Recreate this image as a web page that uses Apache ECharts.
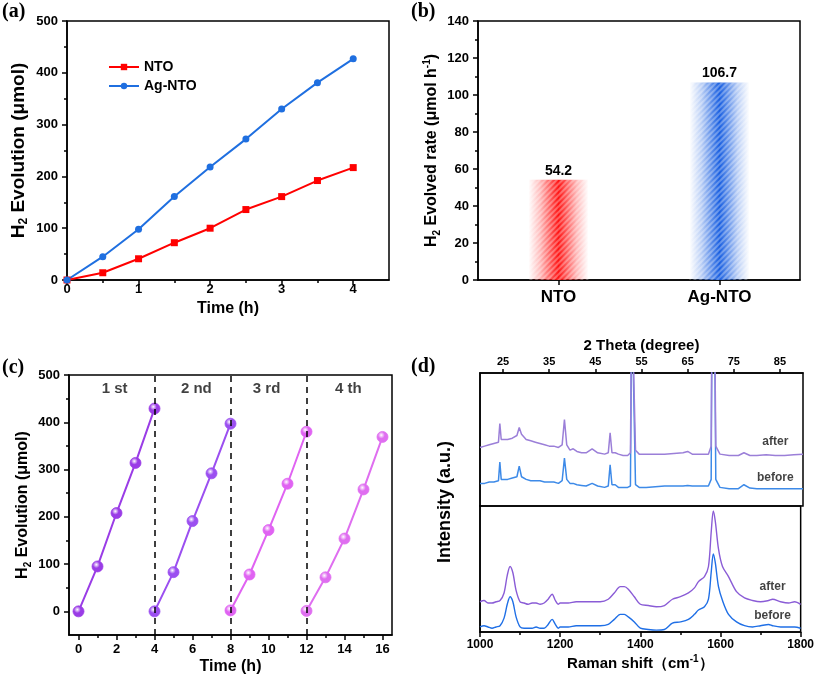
<!DOCTYPE html>
<html><head><meta charset="utf-8">
<script src="https://cdn.jsdelivr.net/npm/echarts@6/dist/echarts.min.js"></script>
<style>html,body{margin:0;padding:0;background:#fff}#c{width:817px;height:678px}</style>
</head><body><div id="c"></div>
<script>
// ---------- (a) ----------
const timeA = [0, 0.5, 1, 1.5, 2, 2.5, 3, 3.5, 4];
const ntoH2 = [0, 14, 41, 72, 100, 136, 161, 192, 217];
const agNtoH2 = [0, 45, 98, 161, 218, 272, 330, 381, 427];
const timeTicksA = [0, 1, 2, 3, 4];
const timeMinorA = [0.5, 1.5, 2.5, 3.5];
// ---------- (b) ----------
const rateCats = ['NTO', 'Ag-NTO'];
const rateVals = [54.2, 106.7];
// ---------- (c) ----------
const cycleTimes = [[0,1,2,3,4],[4,5,6,7,8],[8,9,10,11,12],[12,13,14,15,16]];
const cycleH2 = [[0,95,208,314,429],[0,83,191,292,397],[2,78,172,270,380],[1,72,154,258,369]];
const cycleNames = ['1 st', '2 nd', '3 rd', '4 th'];
const cycleLabelX = [1.9, 6.2, 9.9, 14.2];
const cycleLabelY = 470;
const cycleBreaks = [4, 8, 12];
const timeTicksC = [0, 2, 4, 6, 8, 10, 12, 14, 16];
const timeMinorC = [1, 3, 5, 7, 9, 11, 13, 15];
const h2TicksC = [0, 100, 200, 300, 400, 500];
const h2MinorC = [50, 150, 250, 350, 450];
// ---------- (d) XRD ----------
const thetaTicks = [25, 35, 45, 55, 65, 75, 85];
const xrdTheta = [20,21,22,23,24,24.3,24.6,25,26,27,28,28.5,29,30,31,32,33,34,35,36,37,37.8,38.3,38.8,39.5,40.2,41,42,43,44.3,45.5,47,47.8,48.2,48.6,49.3,50,51,52,52.6,52.9,53.3,53.7,54.5,56,58,60,62,64,65,66,68,69.5,70.1,70.3,70.8,71.1,72,74,76,77.2,78.5,80,82,84,86,88,90];
const xrdAfter = [44,45,46,47,48,62,50,50,50,51,53,59,54,50,49,48,47,46,45,45,44,46,65,46,42,43,41,40,40,43,40,39,40,55,40,40,39,38,38,40,160,160,42,39,39,39,39,39.5,40,41,39,39,39,45,160,160,45,39,38,38,40,38,38,38.5,38,38,38.5,39];
const xrdBefore = [17,17,18,18,19,33,20,20,20,21,22,30,22,20,19,19,19,18,18,18,17,19,36,20,17,17,16,15.5,15,17,15,14,15,31,16,16,14,14,14,15,160,160,16,14,14,14.5,15,15,15,15.5,15,15,15,20,160,160,20,14,13,13,16,13.5,13,13,13,13,13,13];
// ---------- (d) Raman ----------
const ramanShift = [1000,1010,1020,1030,1040,1050,1060,1068,1075,1082,1090,1100,1110,1120,1130,1140,1150,1160,1170,1180,1188,1195,1200,1220,1240,1260,1280,1300,1320,1335,1350,1360,1370,1385,1400,1420,1440,1460,1480,1500,1520,1535,1545,1560,1570,1577,1582,1587,1595,1605,1620,1640,1660,1680,1700,1720,1730,1750,1770,1785,1800];
const ramanAfter = [24,25,23,23,24,25,31,45,52,47,33,24,23,22,23,23,22,23,26,30,25,22,23,23,24,24,24,24,26,31,36,36,34,28,22,21,20,21,26,28,31,35,40,44,52,80,96,88,66,52,44,32,27,25,24,25,26,24,23,24,22];
const ramanBefore = [4,5,4,3,4,5,11,22,28,24,12,4,3,3,3,4,3,3,6,10,6,3,4,4,5,5,5,5,6,10,14,14,12,8,3,2,1.5,2,7,8,10,14,17.5,20,26,48,62,55,36,25,14,8,5,4,5,6,5,4,4,4,3];
const xrdLabels = [[84, 48, 'after'], [84, 21, 'before']];
const ramanLabels = [[1730, 36, 'after'], [1730, 13, 'before']];

const FF = '"Liberation Sans", Arial, sans-serif';
const colA = ['#ff0000', '#1f6fe0'];
const colB = ['255,20,20', '25,95,225'];
const colC = ['#9a3ce6', '#9b4ff0', '#e063f2', '#df6ef0'];
const zip = (xs, ys) => xs.map((x, i) => [x, ys[i]]);

const lineSt = { color: '#000', width: 1.5 };
function mainAxis(o) {
  const a = {
    type: 'value', splitLine: { show: false },
    axisLine: { show: true, onZero: false, lineStyle: lineSt },
    axisTick: { show: true, inside: false, length: 5, lineStyle: lineSt },
    axisLabel: { color: '#000', fontWeight: 'bold', fontFamily: FF, fontSize: 13 },
    nameLocation: 'middle',
    nameTextStyle: { color: '#000', fontWeight: 'bold', fontFamily: FF, fontSize: 16 }
  };
  for (const k in o) {
    if (typeof o[k] === 'object' && !Array.isArray(o[k]) && a[k]) a[k] = Object.assign({}, a[k], o[k]);
    else a[k] = o[k];
  }
  return a;
}
function minorAxis(o, vals) {
  return Object.assign({
    type: 'value', splitLine: { show: false },
    axisLine: { show: false, onZero: false },
    axisTick: { show: true, inside: false, length: 3, lineStyle: lineSt, customValues: vals },
    axisLabel: { show: false }
  }, o);
}
function richName(size) {
  return {
    t: { fontSize: size, fontWeight: 'bold', fontFamily: FF, color: '#000', lineHeight: size + 4 },
    s: { fontSize: Math.round(size * 0.65), fontWeight: 'bold', fontFamily: FF, color: '#000', verticalAlign: 'bottom', lineHeight: Math.round(size * 0.65) },
    p: { fontSize: Math.round(size * 0.65), fontWeight: 'bold', fontFamily: FF, color: '#000', verticalAlign: 'top', lineHeight: Math.round(size * 0.65) }
  };
}
function sphere(c) {
  return { type: 'radial', x: 0.4, y: 0.35, r: 0.65,
    colorStops: [{ offset: 0, color: '#ffffff' }, { offset: 0.45, color: c }, { offset: 1, color: c }] };
}
function barGrad(rgb) {
  return { type: 'linear', x: 0, y: 0, x2: 1, y2: 0,
    colorStops: [
      { offset: 0, color: 'rgba(' + rgb + ',0)' },
      { offset: 0.2, color: 'rgba(' + rgb + ',0.3)' },
      { offset: 0.5, color: 'rgba(' + rgb + ',1)' },
      { offset: 0.8, color: 'rgba(' + rgb + ',0.3)' },
      { offset: 1, color: 'rgba(' + rgb + ',0)' }] };
}
const gridBase = { show: true, borderColor: '#000', borderWidth: 1.5, containLabel: false };

const option = {
  animation: false,
  backgroundColor: '#fff',
  grid: [
    Object.assign({ left: 67, top: 21, width: 322, height: 259 }, gridBase),
    Object.assign({ left: 478, top: 21, width: 322, height: 259 }, gridBase),
    Object.assign({ left: 69, top: 375, width: 323, height: 260 }, gridBase),
    Object.assign({ left: 480, top: 373, width: 323, height: 133 }, gridBase),
    Object.assign({ left: 480, top: 506, width: 323, height: 126 }, gridBase)
  ],
  legend: {
    left: 103, top: 55, orient: 'vertical', itemWidth: 30, itemHeight: 8, itemGap: 5,
    data: ['NTO', 'Ag-NTO'],
    textStyle: { fontWeight: 'bold', fontSize: 14, fontFamily: FF, color: '#000' }
  },
  xAxis: [
    mainAxis({ gridIndex: 0, min: 0, max: 4.5, position: 'bottom', name: 'Time (h)', nameGap: 21,
      axisTick: { customValues: timeTicksA }, axisLabel: { customValues: timeTicksA, margin: 3 } }),
    minorAxis({ gridIndex: 0, min: 0, max: 4.5, position: 'bottom' }, timeMinorA),
    mainAxis({ gridIndex: 1, type: 'category', data: rateCats,
      axisTick: { alignWithLabel: true }, axisLabel: { fontSize: 17, margin: 9 } }),
    mainAxis({ gridIndex: 2, min: -0.5, max: 16.5, position: 'bottom', name: 'Time (h)', nameGap: 24,
      axisTick: { customValues: timeTicksC }, axisLabel: { customValues: timeTicksC, margin: 8 } }),
    minorAxis({ gridIndex: 2, min: -0.5, max: 16.5, position: 'bottom' }, timeMinorC),
    mainAxis({ gridIndex: 3, min: 20, max: 90, position: 'top', name: '2 Theta (degree)', nameGap: 20,
      nameTextStyle: { fontSize: 15 },
      axisTick: { customValues: thetaTicks, length: 4 }, axisLabel: { customValues: thetaTicks, fontSize: 11, margin: 6 } }),
    mainAxis({ gridIndex: 4, min: 1000, max: 1800, interval: 200, position: 'bottom',
      name: '{t|Raman shift（cm}{p|-1}{t|）}', nameGap: 22, nameTextStyle: { rich: richName(15) },
      minorTick: { show: true, splitNumber: 2, length: 3, lineStyle: lineSt },
      axisLabel: { fontSize: 12, margin: 7, formatter: v => String(v) } })
  ],
  yAxis: [
    mainAxis({ gridIndex: 0, min: 0, max: 500, interval: 100, position: 'left',
      name: '{t|H}{s|2}{t| Evolution (μmol)}', nameGap: 37, nameTextStyle: { rich: richName(19) },
      minorTick: { show: true, splitNumber: 2, length: 3, lineStyle: lineSt },
      axisLabel: { margin: 9 } }),
    mainAxis({ gridIndex: 1, min: 0, max: 140, interval: 20, position: 'left',
      name: '{t|H}{s|2}{t| Evolved rate (μmol h}{p|-1}{t|)}', nameGap: 36, nameTextStyle: { rich: richName(16) },
      minorTick: { show: true, splitNumber: 2, length: 3, lineStyle: lineSt },
      axisLabel: { margin: 9 } }),
    mainAxis({ gridIndex: 2, min: -50, max: 500, position: 'left',
      name: '{t|H}{s|2}{t| Evolution (μmol)}', nameGap: 36, nameTextStyle: { rich: richName(16) },
      axisTick: { customValues: h2TicksC }, axisLabel: { customValues: h2TicksC, margin: 9 } }),
    minorAxis({ gridIndex: 2, min: -50, max: 500, position: 'left' }, h2MinorC),
    mainAxis({ gridIndex: 3, min: 0, max: 100, position: 'left', axisTick: { show: false }, axisLabel: { show: false } }),
    mainAxis({ gridIndex: 4, min: 0, max: 100, position: 'left', axisTick: { show: false }, axisLabel: { show: false } })
  ],
  series: [
    { name: 'NTO', type: 'line', xAxisIndex: 0, yAxisIndex: 0, data: zip(timeA, ntoH2),
      symbol: 'rect', symbolSize: 7, color: colA[0], lineStyle: { width: 2 } },
    { name: 'Ag-NTO', type: 'line', xAxisIndex: 0, yAxisIndex: 0, data: zip(timeA, agNtoH2),
      symbol: 'circle', symbolSize: 7, color: colA[1], lineStyle: { width: 2 } },
    { type: 'bar', xAxisIndex: 2, yAxisIndex: 1, barWidth: 60,
      data: rateVals.map((v, i) => ({ value: v, itemStyle: { color: barGrad(colB[i]),
        decal: { symbol: 'rect', symbolSize: 1, dashArrayX: [[1, 0]], dashArrayY: [2, 2], rotation: -Math.PI / 4, color: 'rgba(255,255,255,0.3)' } } })),
      label: { show: true, position: 'top', distance: 2, fontWeight: 'bold', fontSize: 14, fontFamily: FF, color: '#000' } },
    ...cycleH2.map((ys, i) => ({
      type: 'line', xAxisIndex: 3, yAxisIndex: 2, data: zip(cycleTimes[i], ys),
      symbol: 'circle', symbolSize: 11, lineStyle: { width: 2, color: colC[i] },
      itemStyle: { color: sphere(colC[i]), borderColor: colC[i], borderWidth: 0.8 },
      z: 3,
      markLine: i === 0 ? { silent: true, symbol: ['none', 'none'], label: { show: false },
        lineStyle: { type: [6, 5], color: '#000', width: 1.5 },
        data: cycleBreaks.map(x => ({ xAxis: x })) } : undefined
    })),
    { type: 'scatter', xAxisIndex: 3, yAxisIndex: 2, symbolSize: 1, itemStyle: { color: 'rgba(0,0,0,0)' },
      data: cycleNames.map((n, i) => ({ value: [cycleLabelX[i], cycleLabelY], name: n })),
      label: { show: true, position: 'inside', formatter: '{b}', fontWeight: 'bold', fontSize: 15, fontFamily: FF, color: '#111' } },
    { type: 'line', xAxisIndex: 5, yAxisIndex: 4, data: zip(xrdTheta, xrdBefore), symbol: 'none',
      lineStyle: { width: 1.5, color: '#3d8ae8' } },
    { type: 'line', xAxisIndex: 5, yAxisIndex: 4, data: zip(xrdTheta, xrdAfter), symbol: 'none',
      lineStyle: { width: 1.5, color: '#9b7fd8' } },
    { type: 'line', xAxisIndex: 6, yAxisIndex: 5, data: zip(ramanShift, ramanBefore), symbol: 'none', smooth: 0.3,
      lineStyle: { width: 1.4, color: '#1f6fe6' } },
    { type: 'line', xAxisIndex: 6, yAxisIndex: 5, data: zip(ramanShift, ramanAfter), symbol: 'none', smooth: 0.3,
      lineStyle: { width: 1.4, color: '#8a5cd6' } },
    { type: 'scatter', xAxisIndex: 5, yAxisIndex: 4, symbolSize: 1, itemStyle: { color: 'rgba(0,0,0,0)' },
      data: xrdLabels, label: { show: true, position: 'inside', formatter: p => p.data[2], fontWeight: 'bold', fontSize: 12, fontFamily: FF, color: '#111' } },
    { type: 'scatter', xAxisIndex: 6, yAxisIndex: 5, symbolSize: 1, itemStyle: { color: 'rgba(0,0,0,0)' },
      data: ramanLabels, label: { show: true, position: 'inside', formatter: p => p.data[2], fontWeight: 'bold', fontSize: 12, fontFamily: FF, color: '#111' } }
  ],
  graphic: [
    { type: 'text', left: 2, top: 2, style: { text: '(a)', font: 'bold 20px "Liberation Serif", "Times New Roman", serif', fill: '#000' } },
    { type: 'text', left: 411, top: 2, style: { text: '(b)', font: 'bold 20px "Liberation Serif", "Times New Roman", serif', fill: '#000' } },
    { type: 'text', left: 2, top: 358, style: { text: '(c)', font: 'bold 20px "Liberation Serif", "Times New Roman", serif', fill: '#000' } },
    { type: 'text', left: 411, top: 357, style: { text: '(d)', font: 'bold 20px "Liberation Serif", "Times New Roman", serif', fill: '#000' } },
    { type: 'text', x: 445, y: 502, rotation: Math.PI / 2,
      style: { text: 'Intensity (a.u.)', font: 'bold 18px ' + FF, fill: '#000', align: 'center', verticalAlign: 'middle' } }
  ]
};
const chart = echarts.init(document.getElementById('c'), null, { renderer: 'canvas' });
chart.setOption(option);
</script></body></html>
